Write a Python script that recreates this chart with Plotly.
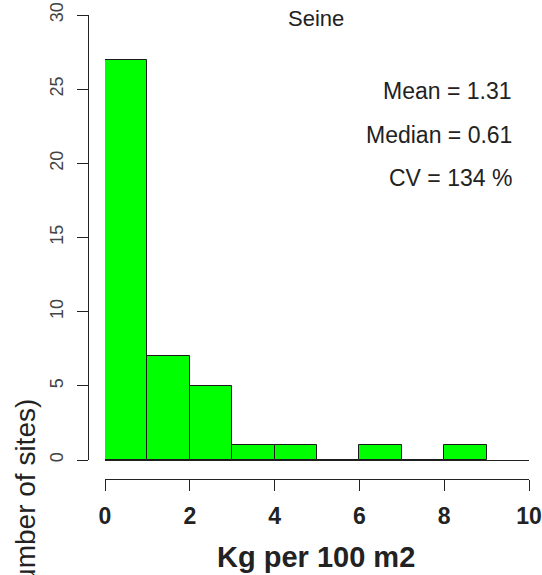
import plotly.graph_objects as go

# Histogram of biomass at Seine sites (1 kg-wide bins)
bin_left = [0, 1, 2, 3, 4, 5, 6, 7, 8]
site_counts = [27, 7, 5, 1, 1, 0, 1, 0, 1]
x_ticks = [0, 2, 4, 6, 8, 10]
y_ticks = [0, 5, 10, 15, 20, 25, 30]
title_text = "Seine"
stats_lines = ["Mean = 1.31", "Median = 0.61", "CV = 134 %"]
x_label = "Kg per 100 m2"
y_label = "Frequency (Number of sites)"

W, H = 542, 575
FONT = "Liberation Sans, Arial, sans-serif"


def px(x):
    return x / W


def py(y):
    return 1 - y / H


centers = [b + 0.5 for b in bin_left]

fig = go.Figure(
    go.Bar(
        x=centers,
        y=site_counts,
        width=1,
        marker=dict(color="#00ff00", line=dict(color="#1a1a1a", width=1)),
        hoverinfo="x+y",
    )
)

fig.update_layout(
    width=W,
    height=H,
    margin=dict(l=0, r=0, t=0, b=0),
    paper_bgcolor="white",
    plot_bgcolor="white",
    showlegend=False,
    bargap=0,
    font=dict(family=FONT, color="#222"),
    xaxis=dict(
        domain=[px(105), px(529)],
        range=[0, 10],
        anchor="free",
        position=py(479),
        tickvals=x_ticks,
        ticks="outside",
        ticklen=11,
        tickwidth=1,
        tickcolor="#222",
        showline=True,
        linecolor="#222",
        linewidth=1,
        showgrid=False,
        zeroline=False,
        tickfont=dict(size=23, family=FONT, color="#222", weight="bold"),
        ticklabelstandoff=5,
        automargin=False,
    ),
    yaxis=dict(
        domain=[py(460), py(15)],
        range=[0, 30],
        anchor="free",
        position=px(88),
        tickvals=y_ticks,
        ticks="outside",
        ticklen=11,
        tickwidth=1,
        tickcolor="#222",
        tickangle=-90,
        showline=True,
        linecolor="#222",
        linewidth=1,
        showgrid=False,
        zeroline=True,
        zerolinecolor="#222",
        zerolinewidth=1,
        tickfont=dict(size=18, family=FONT, color="#444"),
        ticklabelstandoff=7,
        automargin=False,
    ),
)

annotations = [
    dict(text=title_text, x=px(316), y=py(19), font=dict(size=22)),
    dict(text=x_label, x=px(316), y=py(557),
         font=dict(size=29, weight="bold")),
    dict(text=y_label, x=px(25), y=py(397), yanchor="top",
         textangle=-90, font=dict(size=28)),
]
stat_y = [91, 135, 178]
for line, yy in zip(stats_lines, stat_y):
    annotations.append(
        dict(text=line, x=px(514), y=py(yy), xanchor="right",
             font=dict(size=23))
    )
for a in annotations:
    a.setdefault("xanchor", "center")
    a.setdefault("yanchor", "middle")
    a.update(xref="paper", yref="paper", showarrow=False)
    a["font"] = dict(family=FONT, color="#222", **a["font"])
fig.update_layout(annotations=annotations)

fig.write_html("out.html")
